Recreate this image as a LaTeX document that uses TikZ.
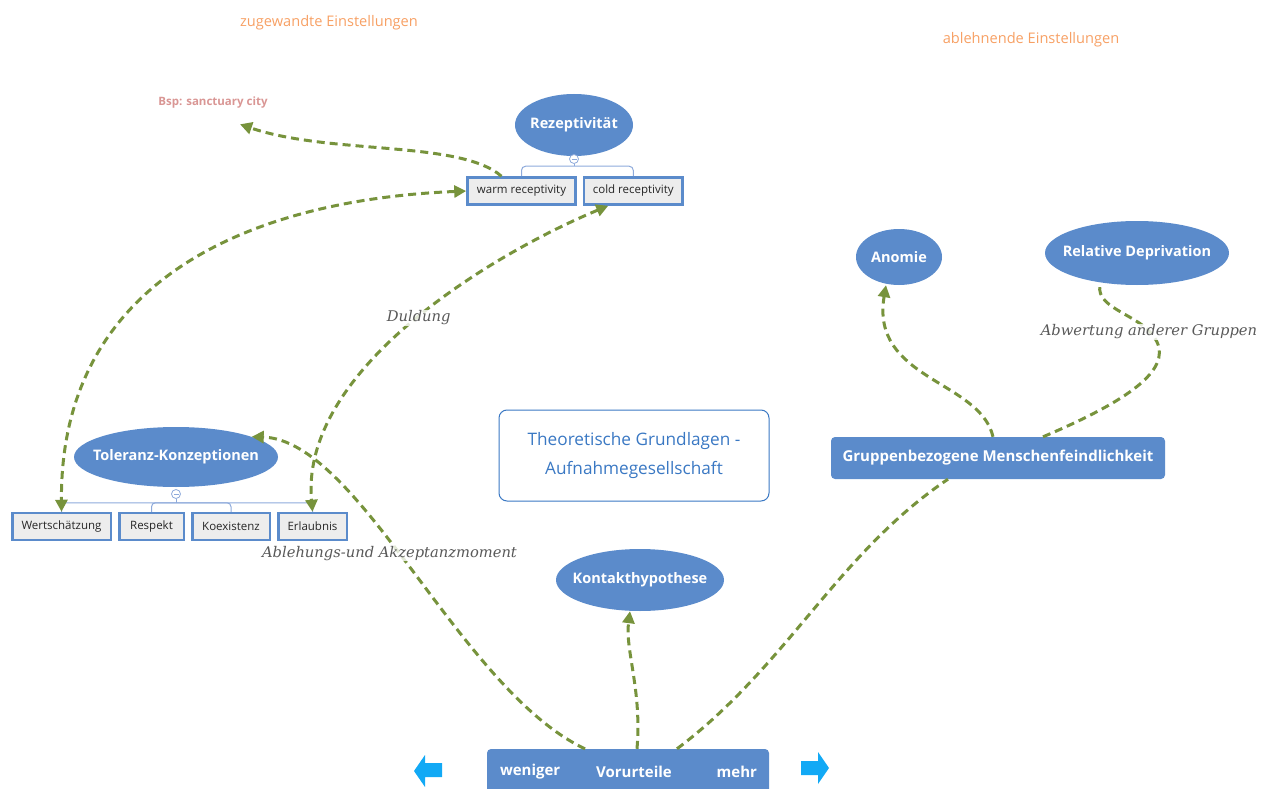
\documentclass[tikz,border=0pt]{standalone}
\usepackage{fontspec}
\setmainfont{Open Sans}
\newfontfamily\notefont{DejaVu Serif}
\usepackage{tikz}
\usetikzlibrary{shapes,arrows.meta,positioning,calc}
\definecolor{nodeblue}{HTML}{5B8BCB}
\definecolor{boxgrey}{HTML}{EDEDED}
\definecolor{linkgreen}{HTML}{77933C}
\definecolor{treeblue}{HTML}{8EAADB}
\definecolor{titleblue}{HTML}{3A78C3}
\definecolor{attorange}{HTML}{F7A064}
\definecolor{bsprose}{HTML}{D99694}
\definecolor{notegrey}{HTML}{595959}
\definecolor{arrowcyan}{HTML}{12A9F5}
\newcommand{\tp}[1]{\makebox[0pt]{#1}}
\tikzstyle{topic} = [ellipse, fill=nodeblue, text=white, font=\bfseries\fontsize{14.5}{17}\selectfont, inner sep=0pt]
\tikzstyle{sub} = [rectangle, draw=nodeblue, line width=2.5pt, fill=boxgrey, minimum height=27pt, inner xsep=1pt, font=\fontsize{11.5}{13}\selectfont, text=black!85]
\tikzstyle{hub} = [rectangle, rounded corners=4pt, fill=nodeblue, text=white, font=\bfseries\fontsize{15}{18}\selectfont]
\tikzstyle{link} = [line width=3pt, draw=linkgreen, dash pattern=on 8pt off 5pt, >={Triangle[length=12pt,width=12pt]}]
\tikzstyle{tree} = [draw=treeblue, line width=1pt, rounded corners=4pt]
\tikzstyle{toggle} = [circle, draw=treeblue, fill=white, line width=0.8pt, minimum size=9pt, inner sep=0pt]
\tikzstyle{note} = [font=\notefont\itshape\fontsize{14.7}{17}\selectfont, text=notegrey]
\tikzstyle{onlink} = [fill=white, fill opacity=0.8, text opacity=1, inner sep=1pt]
\tikzstyle{heading} = [font=\fontsize{14.6}{17}\selectfont, text=attorange]

\begin{document}
\begin{tikzpicture}[x=1pt,y=-1pt]
\useasboundingbox (0,0) rectangle (1267,789);

% Einstellungen
\node (zugewandt) [heading] at (329,23) {zugewandte Einstellungen};
\node (ablehnend) [heading] at (1031,40) {ablehnende Einstellungen};
\node (bsp) [font=\bfseries\fontsize{11.5}{13}\selectfont, text=bsprose] at (213,103) {Bsp: sanctuary city};

% Rezeptivitaet
\node (rez) [topic, minimum width=118pt, minimum height=62pt] at (574,125) {\tp{Rezeptivität}};
\node (rezt) [toggle] at (574,159) {};
\draw[treeblue, line width=0.8pt] ([xshift=-2.5pt]rezt.center) -- ([xshift=2.5pt]rezt.center);
\node (warm) [sub, minimum width=108pt] at (521.5,191) {warm receptivity};
\node (cold) [sub, minimum width=98.5pt, right=6pt of warm] {cold receptivity};
\draw[tree] (warm.north) |- ($(cold.north)+(0,-10)$) -- (cold.north);
\draw[tree] (rezt.south) -- ($(rezt.south |- warm.north)+(0,-10)$);

% Toleranz
\node (tol) [topic, minimum width=204pt, minimum height=60pt] at (176,457) {\tp{Toleranz-Konzeptionen}};
\node (tolt) [toggle] at (176,494) {};
\draw[treeblue, line width=0.8pt] ([xshift=-2.5pt]tolt.center) -- ([xshift=2.5pt]tolt.center);
\node (wert) [sub, minimum width=98.5pt] at (61.5,526.5) {Wertschätzung};
\node (resp) [sub, minimum width=64.5pt, right=6pt of wert] {Respekt};
\node (koex) [sub, minimum width=77.5pt, right=6pt of resp] {Koexistenz};
\node (erl) [sub, minimum width=68.5pt, right=6pt of koex] {Erlaubnis};
\draw[tree] (wert.north) |- ($(erl.north)+(0,-9)$) -- (erl.north);
\draw[tree] (resp.north) |- ($(koex.north)+(0,-9)$) -- (koex.north);
\draw[tree] (tolt.south) -- ($(tolt.south |- wert.north)+(0,-9)$);

% Mitte
\node (theo) [draw=titleblue, line width=1pt, rounded corners=8pt, minimum width=270pt, minimum height=91pt, align=center, text=titleblue, font=\fontsize{17.2}{29}\selectfont] at (634,455.5) {Theoretische Grundlagen -\\Aufnahmegesellschaft};
\node (kon) [topic, minimum width=168pt, minimum height=62pt] at (640,580) {\tp{Kontakthypothese}};

% rechts
\node (grp) [hub, minimum width=334pt, minimum height=42pt] at (998,458) {Gruppenbezogene Menschenfeindlichkeit};
\node (ano) [topic, minimum width=86pt, minimum height=56pt] at (899,257) {\tp{Anomie}};
\node (rel) [topic, minimum width=184pt, minimum height=64pt] at (1137,253) {\tp{Relative Deprivation}};

% Vorurteile
\node (vor) [hub, minimum width=282pt, minimum height=46pt] at (628,772) {\hspace{12pt}Vorurteile};
\node (weniger) [hub, inner xsep=0pt, right=13pt of vor.west] {weniger};
\node (mehr) [hub, inner xsep=0pt, left=12pt of vor.east] {mehr};
\fill[arrowcyan] (414,771) -- (425,755) -- (425,763) -- (442,763) -- (442,777) -- (425,777) -- (425,787) -- cycle;
\fill[arrowcyan] (829,768) -- (818,752) -- (818,761) -- (801,761) -- (801,775) -- (818,775) -- (818,784) -- cycle;

% Verbindungen
\draw[link,->] ([xshift=-20pt]warm.north) .. controls (460,140) and (330,155) .. ([shift={(27,12)}]bsp.south);
\draw[link,<->] (warm.west) .. controls (250,200) and (60,280) .. (wert.north);
\draw[link,<->] ([xshift=-25pt]cold.south) .. controls (490,255) and (300,370) .. (erl.north)
  node[note, onlink, pos=0.48] {Duldung};
\draw[link,->] ([xshift=-43pt]vor.north) .. controls (460,690) and (360,440) .. (tol.15)
  node[note, onlink, pos=0.545, xshift=-8pt] {Ablehungs-und Akzeptanzmoment};
\draw[link,->] ([xshift=9pt]vor.north) .. controls (642,690) and (625,650) .. ([xshift=-10pt]kon.south);
\draw[link] ([xshift=49pt]vor.north) .. controls (787,666) and (838,553) .. ([xshift=-50pt]grp.south);
\draw[link,->] ([xshift=-5pt]grp.north) .. controls (980,380) and (870,380) .. ([xshift=-13pt]ano.south);
\draw[link] ([xshift=45pt]grp.north) .. controls (1130,400) and (1170,370) .. (1157,342)
  node[note, onlink, xshift=-8pt, yshift=10pt] {Abwertung anderer Gruppen}
  .. controls (1145,315) and (1095,310) .. ([xshift=-37pt]rel.south);
\end{tikzpicture}
\end{document}
